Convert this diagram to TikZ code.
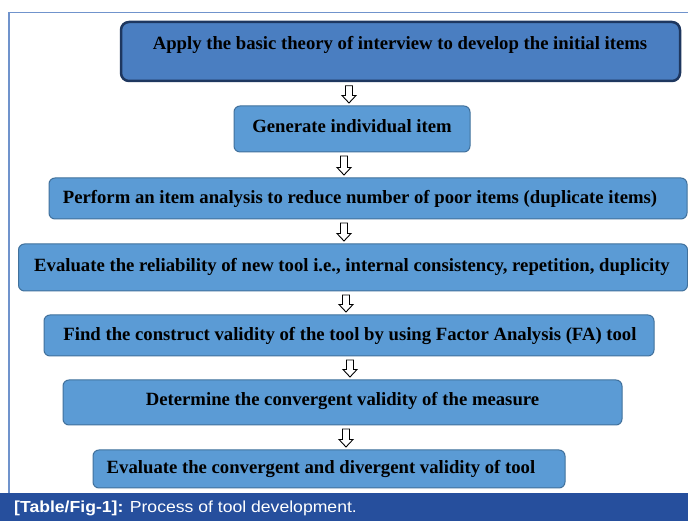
\documentclass[tikz,border=0pt]{standalone}
\usepackage{fontspec}
\setmainfont{Liberation Serif}
\newfontfamily\boxfont{Liberation Serif}
\newfontfamily\capfont{Liberation Sans}
\usetikzlibrary{calc}
\definecolor{frameblue}{RGB}{112,147,204}
\definecolor{bandblue}{RGB}{38,79,157}
\definecolor{topfill}{RGB}{74,126,193}
\definecolor{topline}{RGB}{30,55,95}
\definecolor{boxfill}{RGB}{91,155,213}
\definecolor{boxline}{RGB}{65,113,156}
\tikzset{
  stepbox/.style={draw=boxline, fill=boxfill, line width=1pt, rounded corners=6pt, inner sep=0pt},
  topbox/.style={draw=topline, fill=topfill, line width=2.5pt, rounded corners=8pt, inner sep=0pt},
  steptext/.style={font=\boxfont\bfseries\fontsize{18.7}{21}\selectfont, text=black, inner sep=0pt},
  barrow/.style={draw=black, fill=white, line width=0.9pt, line join=miter},
  captext/.style={font=\capfont\fontsize{16}{18}\selectfont, text=white, inner sep=0pt, anchor=west}
}
\newcommand\blockarr[3]{%
  \draw[barrow] ($(#1.south -| #3)+(-3.5,-3.5)$) -- ($(#1.south -| #3)+(3.5,-3.5)$)
    -- ($(#2.north -| #3)+(3.5,10)$) -- ($(#2.north -| #3)+(7,10)$)
    -- ($(#2.north -| #3)+(0,2.5)$) -- ($(#2.north -| #3)+(-7,10)$)
    -- ($(#2.north -| #3)+(-3.5,10)$) -- cycle;}
\begin{document}
\begin{tikzpicture}[x=1pt,y=1pt]
\useasboundingbox (0,0) rectangle (688,521);
\fill[white] (0,0) rectangle (688,521);
% frame
\draw[frameblue, line width=1.3pt] (9,28) -- (9,508.5) -- (690,508.5);
% caption band
\fill[bandblue] (0,0) rectangle (688,28);
\node[captext] (cap) at (14,13) {\scalebox{1.1}[1]{\textbf{[Table/Fig-1]:} Process of tool development.}};
% boxes
\node[topbox, minimum width=559pt, minimum height=59pt] (b1) at (400.5,469.5) {};
\node[stepbox, minimum width=236pt, minimum height=46pt] (b2) at (352,392) {};
\node[stepbox, minimum width=638pt, minimum height=41pt] (b3) at (368,322.5) {};
\node[stepbox, minimum width=669pt, minimum height=47pt] (b4) at (353,253.5) {};
\node[stepbox, minimum width=610pt, minimum height=41pt] (b5) at (349,185.5) {};
\node[stepbox, minimum width=559pt, minimum height=45pt] (b6) at (342.5,118.5) {};
\node[stepbox, minimum width=472pt, minimum height=38pt] (b7) at (329,52) {};
% texts
\node[steptext] (t1) at (400,476) {Apply the basic theory of interview to develop the initial items};
\node[steptext] (t2) at (352,395) {Generate individual item};
\node[steptext] (t3) at (360,322.5) {Perform an item analysis to reduce number of poor items (duplicate items)};
\node[steptext] (t4) at (352,254) {Evaluate the reliability of new tool i.e., internal consistency, repetition, duplicity};
\node[steptext] (t5) at (350,185.5) {Find the construct validity of the tool by using Factor Analysis (FA) tool};
\node[steptext] (t6) at (342.5,120) {Determine the convergent validity of the measure};
\node[steptext] (t7) at (321,52) {Evaluate the convergent and divergent validity of tool};
% arrow columns
\coordinate (x1) at (349,0);
\coordinate (x2) at (344,0);
\coordinate (x3) at (344,0);
\coordinate (x4) at (346,0);
\coordinate (x5) at (350,0);
\coordinate (x6) at (346,0);
\blockarr{b1}{b2}{x1}
\blockarr{b2}{b3}{x2}
\blockarr{b3}{b4}{x3}
\blockarr{b4}{b5}{x4}
\blockarr{b5}{b6}{x5}
\blockarr{b6}{b7}{x6}
\end{tikzpicture}
\end{document}
